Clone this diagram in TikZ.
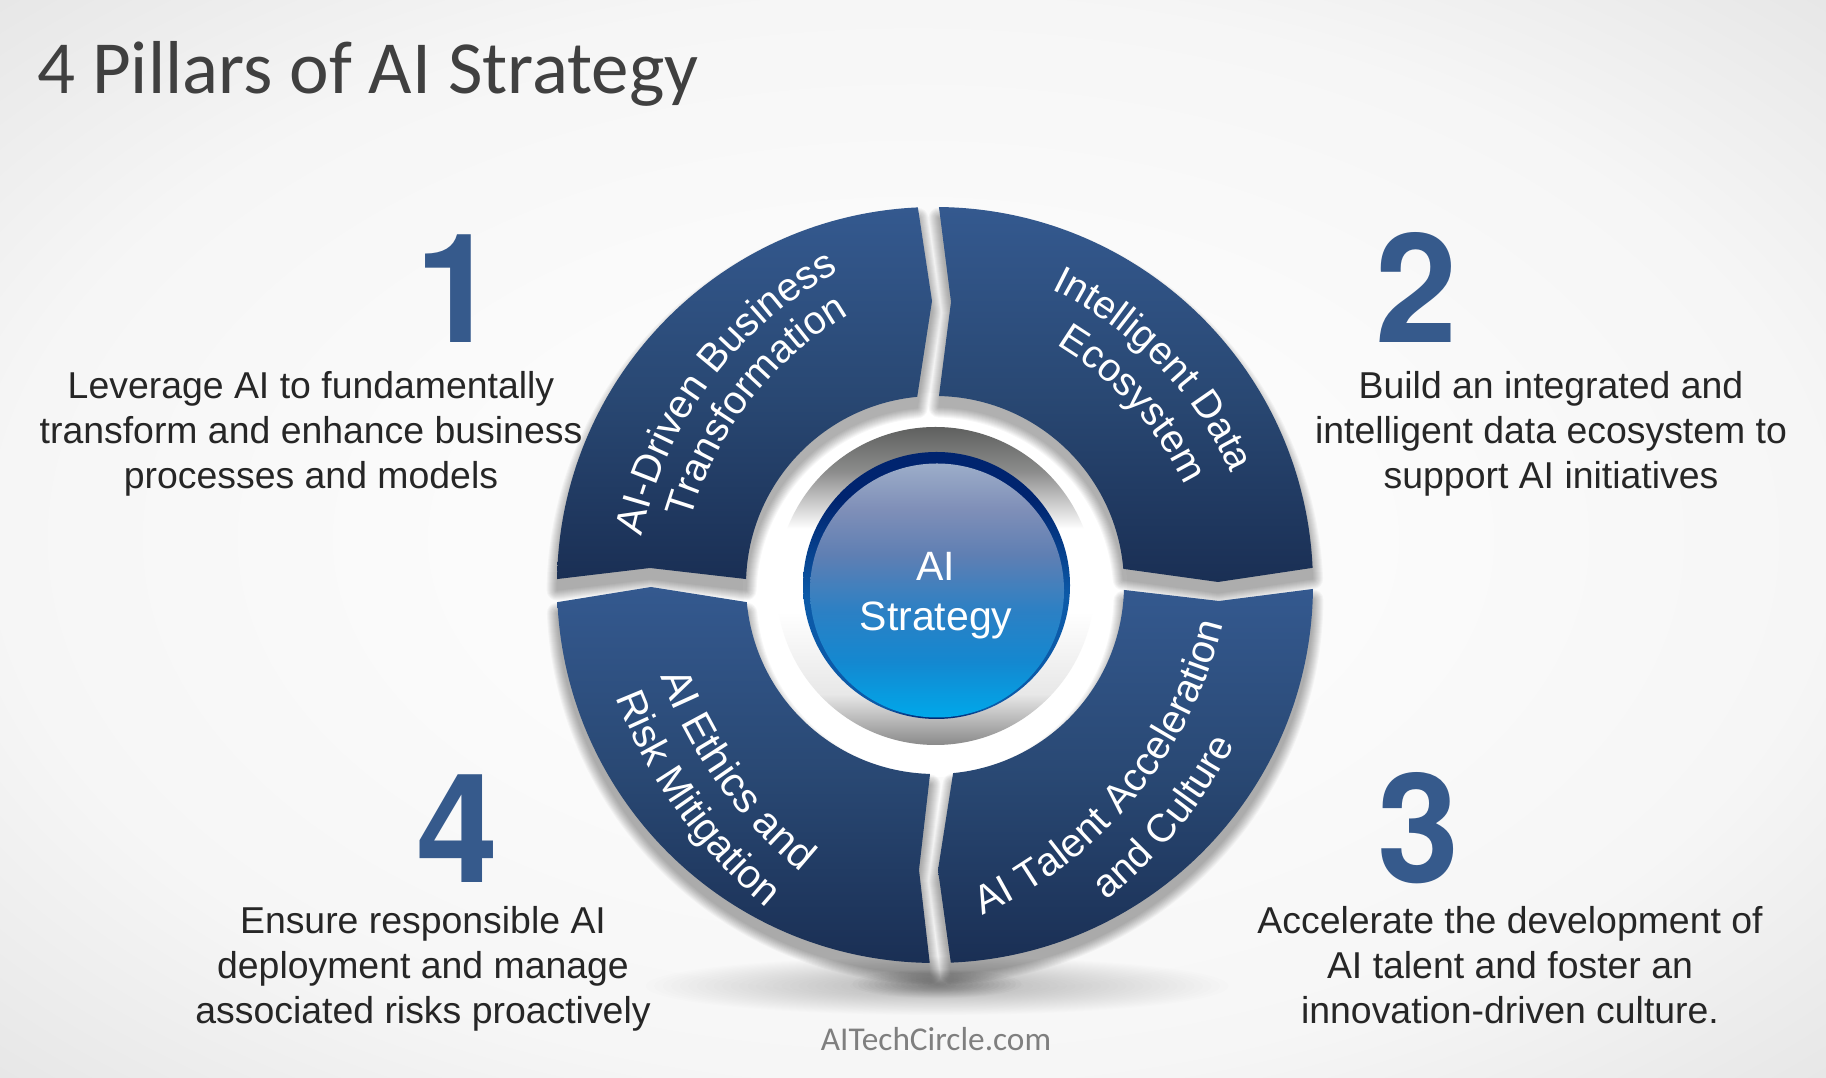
\documentclass[tikz,border=0pt]{standalone}
\usepackage{fontspec}
\usetikzlibrary{decorations.text}
\setmainfont{Liberation Sans}
\newfontfamily\calib{Carlito}
\newfontfamily\numfont[FakeStretch=0.97]{TeX Gyre Heros}
\definecolor{bgA}{HTML}{FBFBFB}
\definecolor{bgB}{HTML}{F6F6F6}
\definecolor{bgC}{HTML}{E6E6E6}
\definecolor{segTop}{HTML}{34598F}
\definecolor{segMid}{HTML}{294873}
\definecolor{segBot}{HTML}{1A2F54}
\definecolor{numblue}{HTML}{365A8C}
\definecolor{ringA}{HTML}{5F605F}
\definecolor{ringB}{HTML}{8C8C8C}
\definecolor{ringC}{HTML}{FFFFFF}
\definecolor{ringD}{HTML}{8A8A8A}
\definecolor{rimA}{HTML}{00246F}
\definecolor{rimB}{HTML}{0C5AA8}
\definecolor{faceA}{HTML}{9CADC9}
\definecolor{faceB}{HTML}{7F8FB8}
\definecolor{faceC}{HTML}{5F7FB3}
\definecolor{faceD}{HTML}{2C80C4}
\definecolor{faceE}{HTML}{1488D0}
\definecolor{faceF}{HTML}{00A8EA}
\definecolor{titlegray}{HTML}{404040}
\definecolor{bodyink}{HTML}{262626}
\definecolor{sitegray}{HTML}{7F7F7F}
% vertical shadings: the path's box runs from 25bp (bottom) to 75bp (top)
\pgfdeclareverticalshading{ringshade}{100bp}{color(0bp)=(ringD); color(25bp)=(ringD); color(33bp)=(ringC!80!ringD); color(46bp)=(ringC); color(59bp)=(ringC); color(68bp)=(ringB); color(75bp)=(ringA); color(100bp)=(ringA)}
\pgfdeclareverticalshading{rimshade}{100bp}{color(0bp)=(rimA); color(25bp)=(rimA); color(27bp)=(rimB); color(48bp)=(rimB); color(66bp)=(rimA); color(100bp)=(rimA)}
\pgfdeclareverticalshading{faceshade}{100bp}{color(0bp)=(faceF); color(25bp)=(faceF); color(36bp)=(faceE); color(46bp)=(faceD); color(57bp)=(faceC); color(66bp)=(faceB); color(75bp)=(faceA); color(100bp)=(faceA)}
\pgfdeclareverticalshading{segshade}{100bp}{color(0bp)=(segBot); color(25bp)=(segBot); color(50bp)=(segMid); color(75bp)=(segTop); color(100bp)=(segTop)}
\pgfdeclareradialshading{bgshade}{\pgfpoint{0bp}{0bp}}{color(0bp)=(bgA); color(12bp)=(bgA); color(25bp)=(bgB); color(36bp)=(bgC); color(50bp)=(bgC)}
\newcommand\segOne{(179.1:378) arc[start angle=179.1,end angle=92.6,radius=378] -- (-3,284) -- (95.4:189) arc[start angle=95.4,end angle=178.2,radius=189] -- (-285,17) -- cycle}
\newcommand\segTwo{(89.4:378) arc[start angle=89.4,end angle=2.6,radius=378] -- (283,3) -- (4.9:189) arc[start angle=4.9,end angle=88.8,radius=189] -- (16,283) -- cycle}
\newcommand\segThree{(-0.6:378) arc[start angle=-0.6,end angle=-87.6,radius=378] -- (3,-285) -- (-84.5:189) arc[start angle=-84.5,end angle=-1.5,radius=189] -- (284,-16) -- cycle}
\newcommand\segFour{(182.6:378) arc[start angle=182.6,end angle=269.2,radius=378] -- (-16,-285) -- (268.5:189) arc[start angle=268.5,end angle=185.2,radius=189] -- (-284,-2) -- cycle}
% \arctext{centre}{radius}{start}{end}{size}{text}
\newcommand\arctext[6]{%
  \path[decorate,decoration={text along path,text align=center,
    text={|\color{white}\fontsize{#5}{#5}\selectfont|#6}}]
    (#1) ++ (#3:#2) arc[start angle=#3,end angle=#4,radius=#2];}
\tikzset{
  x=1pt,y=1pt,
  seglabel/.style={text=white,align=center,font=\fontsize{41}{50}\selectfont,inner sep=0pt},
  bodytext/.style={text=bodyink,align=center,font=\fontsize{37.4}{45}\selectfont,inner sep=0pt},
  bignum/.style={text=numblue,anchor=base,font=\numfont\fontsize{152}{152}\selectfont\bfseries,inner sep=0pt},
  segfill/.style={shading=segshade}
}
\begin{document}
\begin{tikzpicture}
\useasboundingbox (0,0) rectangle (1826,1078);
\shade[shading=bgshade] (0,0) rectangle (1826,1078);
% ground shadow
\foreach \k in {1,...,34}{
  \fill[black,opacity=.008] (937,92) ellipse[x radius={300-8.5*\k},y radius={30-.8*\k}];
}
\foreach \k in {1,...,16}{
  \fill[black,opacity=.018] (937,94) ellipse[x radius={90-5.4*\k},y radius={15-.85*\k}];
}
% the well behind the ring
\fill[white] (935,493) circle[radius=192];
\begin{scope}[shift={(935,493)}]
  % soft shadows
  \begin{scope}[yshift=-11pt]
    \foreach \w in {1,3,...,21}{
      \begin{scope}[transparency group,opacity=.033]
        \path[fill=black,draw=black,line join=round,line width=\w pt] \segOne \segTwo \segThree \segFour;
      \end{scope}
    }
  \end{scope}
  % the four segments
  \shade[segfill] \segOne;
  \shade[segfill] \segTwo;
  \shade[segfill] \segThree;
  \shade[segfill] \segFour;
\end{scope}
% centre button
\shade[shading=ringshade] (935.5,492) circle[radius=159];
\shade[shading=rimshade] (936.5,492.5) circle[radius=133.5];
\shade[shading=faceshade] (937,487.5) circle[radius=127];
% labels following their arcs
\arctext{1025,463}{391}{173.45}{113.45}{40}{AI-Driven Business}
\arctext{1025,463}{348}{172.2}{112.2}{39.5}{Transformation}
\arctext{886,448}{379}{74.25}{14.25}{39.3}{Intelligent Data}
\arctext{886,448}{332}{72.5}{12.5}{39.5}{Ecosystem}
\arctext{800,558}{436}{-69.5}{-9.5}{40}{AI Talent Acceleration}
\arctext{800,558}{489}{-69.2}{-9.2}{39.5}{and Culture}
\arctext{1090,561}{458}{185.6}{245.6}{41.5}{AI Ethics and}
\arctext{1090,561}{507}{185.6}{245.6}{40.3}{Risk Mitigation}
\node[seglabel] (lblcentre) at (936,482.5) {AI\\Strategy};
% title, numbers, paragraphs
\node[text=titlegray,anchor=base west,inner sep=0pt,font=\calib\fontsize{75}{75}\selectfont] (title) at (37,984) {4 Pillars of AI Strategy};
\node[bignum] (numone) at (456,735) {1};
\node[bignum] (numtwo) at (1416,735) {2};
\node[bignum] (numthree) at (1418,195) {3};
\node[bignum] (numfour) at (457,195) {4};
\node[bodytext] (txtone) at (311,644) {Leverage AI to fundamentally\\transform and enhance business\\processes and models};
\node[bodytext] (txttwo) at (1551,644) {Build an integrated and\\intelligent data ecosystem to\\support AI initiatives};
\node[bodytext] (txtthree) at (1510,113) {Accelerate the development of\\AI talent and foster an\\innovation-driven culture.};
\node[bodytext] (txtfour) at (423,109.5) {Ensure responsible AI\\deployment and manage\\associated risks proactively};
\node[text=sitegray,inner sep=0pt,font=\calib\fontsize{33.3}{33.3}\selectfont] (site) at (936,39) {AITechCircle.com};
\end{tikzpicture}
\end{document}
